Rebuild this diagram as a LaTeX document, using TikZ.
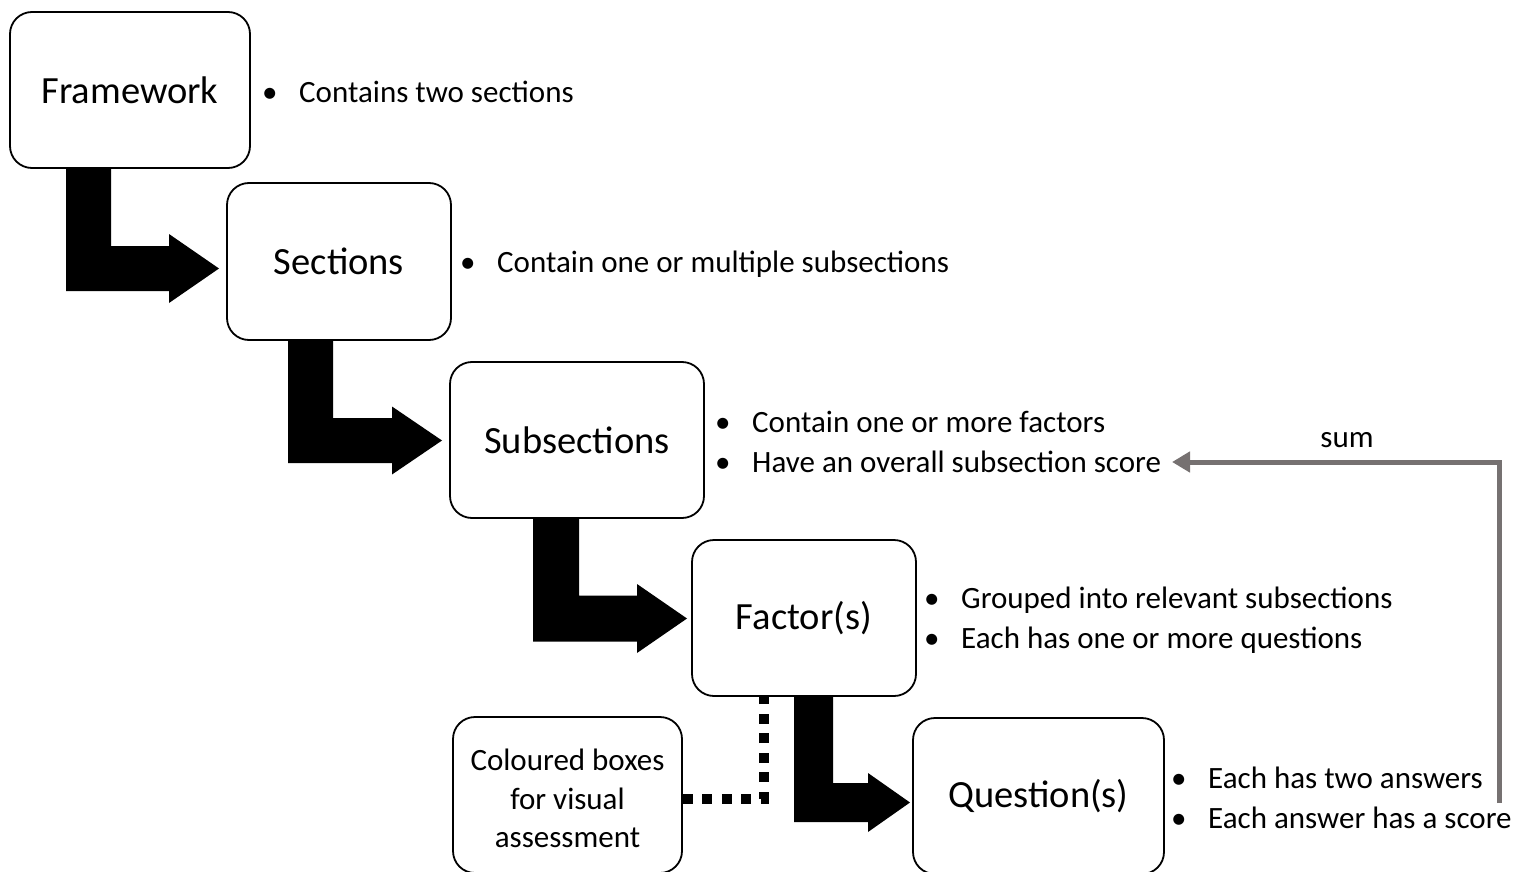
\documentclass[tikz,border=0pt]{standalone}
\usepackage{fontspec}
\setmainfont{Carlito}
\usetikzlibrary{arrows.meta,calc}
\definecolor{sumgrey}{RGB}{118,113,113}
\newcommand{\bl}{\makebox[37pt][l]{•}}
\newcommand{\bigarrow}[8]{% xl, yt, w, yc, xt, L, h, name
  \fill[black] (#1,#2) -- ({#1+#3},#2) -- ({#1+#3},{#4-#3/2}) -- ({#5-#6},{#4-#3/2})
    -- ({#5-#6},{#4-#7}) -- (#5,#4) -- ({#5-#6},{#4+#7}) -- ({#5-#6},{#4+#3/2})
    -- (#1,{#4+#3/2}) -- cycle;}
\begin{document}
\begin{tikzpicture}[x=1pt,y=-1pt,
  box/.style={draw=black, line width=1.8pt, fill=white, rounded corners=22pt,
    inner sep=0pt, font=\fontsize{38.5}{46}\selectfont},
  smallbox/.style={box, font=\fontsize{31}{38.5}\selectfont, align=center},
  bul/.style={inner sep=0pt, anchor=base west, font=\fontsize{31}{40}\selectfont},
  lbl/.style={inner sep=0pt, anchor=base, font=\fontsize{31}{40}\selectfont},
  dotline/.style={line width=10pt, dash pattern=on 10pt off 9.5pt, line join=miter},
  sumline/.style={draw=sumgrey, line width=5pt, -{Triangle[length=18pt,width=20pt]}}]
\useasboundingbox (0,0) rectangle (1531,872);

% thick arrows
\bigarrow{66}{168}{45}{268.5}{219}{50}{34.5}{a1}
\bigarrow{288}{340}{45}{440.5}{442}{50}{34}{a2}
\bigarrow{533}{518}{46}{618.5}{687}{50}{34.5}{a3}
\bigarrow{794}{696}{39}{802.5}{910}{42}{29.5}{a4}

% boxes
\node[box, minimum width=240pt, minimum height=156pt] (fw) at (130,90) {Framework};
\node[box, minimum width=224pt, minimum height=157pt] (sec) at (339,261.5) {Sections};
\node[box, minimum width=254pt, minimum height=156pt] (sub) at (577,440) {Subsections};
\node[box, minimum width=224pt, minimum height=156pt] (fac) at (804,618) {Factor(s)};
\node[box, minimum width=251pt, minimum height=156pt] (que) at (1038.5,796) {Question(s)};
\node[smallbox, minimum width=229pt, minimum height=156pt] (col) at (567.5,795)
  {\rule{0pt}{29pt}Coloured boxes\\for visual\\assessment};

% bullet lists
\node[bul] (fwb) at (262,103) {\begin{tabular}[t]{@{}l@{}}\bl Contains two sections\end{tabular}};
\node[bul] (secb) at (460,272) {\begin{tabular}[t]{@{}l@{}}\bl Contain one or multiple subsections\end{tabular}};
\node[bul] (subb) at (715,432) {\begin{tabular}[t]{@{}l@{}}\bl Contain one or more factors\\\bl Have an overall subsection score\end{tabular}};
\node[bul] (facb) at (924,608) {\begin{tabular}[t]{@{}l@{}}\bl Grouped into relevant subsections\\\bl Each has one or more questions\end{tabular}};
\node[bul] (queb) at (1171,788) {\begin{tabular}[t]{@{}l@{}}\bl Each has two answers\\\bl Each answer has a score\end{tabular}};

% dotted connector
\coordinate (dotA) at ($(col.east)+(0,3.5)$);
\draw[dotline] (dotA) -- (dotA -| 764,0) -- (fac.south -| 764,0);

% sum connector
\coordinate (sumS) at (1499.5,803);
\coordinate (sumE) at (1172,462);
\draw[sumline] (sumS) |- (sumE);
\node[lbl] (sum) at (1347,447) {sum};
\end{tikzpicture}
\end{document}
